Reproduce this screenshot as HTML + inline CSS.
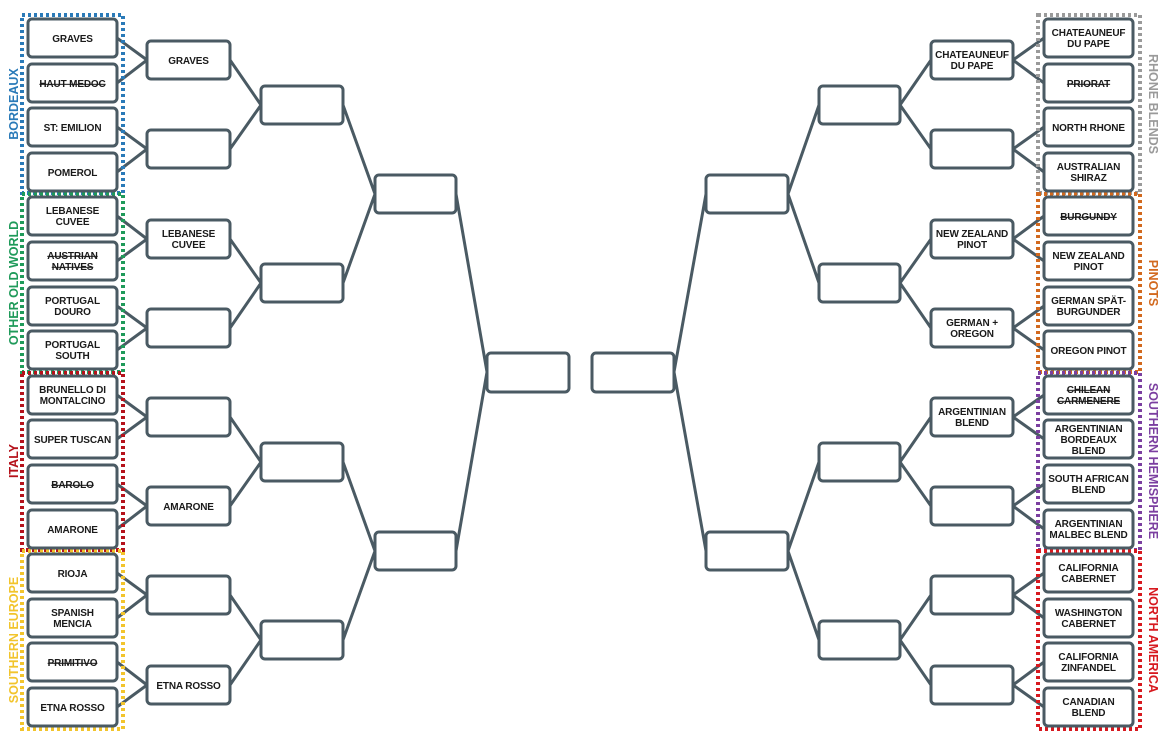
<!DOCTYPE html>
<html><head><meta charset="utf-8"><style>
html,body{margin:0;padding:0;background:#fff;}
svg{display:block;}
text{font-family:"Liberation Sans",sans-serif;font-weight:bold;font-size:10px;fill:#1a1a1a;text-anchor:middle;letter-spacing:-0.15px;}
.s{text-decoration:line-through;}
.g{font-size:12.5px;letter-spacing:0;}
</style></head><body>
<svg width="1170" height="746" viewBox="0 0 1170 746">
<g stroke="#4a5a63" stroke-width="3" fill="none" stroke-linecap="round">
<path d="M117 38L147 60M117 83L147 60M117 127L147 149M117 172L147 149M117 216L147 239M117 261L147 239M117 306L147 328M117 350L147 328M117 395L147 417M117 439L147 417M117 484L147 506M117 529L147 506M117 573L147 595M117 618L147 595M117 662L147 685M117 707L147 685"/>
<path d="M230 60L261 105M230 149L261 105M230 239L261 283M230 328L261 283M230 417L261 462M230 506L261 462M230 595L261 640M230 685L261 640"/>
<path d="M343 105L375 194M343 283L375 194M343 462L375 551M343 640L375 551"/>
<path d="M456 194L487 372M456 551L487 372"/>
<path d="M1044 38L1013 60M1044 83L1013 60M1044 127L1013 149M1044 172L1013 149M1044 216L1013 239M1044 261L1013 239M1044 306L1013 328M1044 350L1013 328M1044 395L1013 417M1044 439L1013 417M1044 484L1013 506M1044 529L1013 506M1044 573L1013 595M1044 618L1013 595M1044 662L1013 685M1044 707L1013 685"/>
<path d="M931 60L900 105M931 149L900 105M931 239L900 283M931 328L900 283M931 417L900 462M931 506L900 462M931 595L900 640M931 685L900 640"/>
<path d="M819 105L788 194M819 283L788 194M819 462L788 551M819 640L788 551"/>
<path d="M706 194L674 372M706 551L674 372"/>
</g>
<g fill="none" stroke-width="4" stroke-dasharray="3 3">
<rect x="22" y="15" width="101" height="178" stroke="#2a7ab8"/>
<rect x="22" y="194" width="101" height="178" stroke="#1f9a5a"/>
<rect x="22" y="373" width="101" height="177" stroke="#b5121b"/>
<rect x="22" y="551" width="101" height="178" stroke="#f2c42c"/>
<rect x="1038" y="15" width="102" height="178" stroke="#9a9a9a"/>
<rect x="1038" y="194" width="102" height="178" stroke="#d2691e"/>
<rect x="1038" y="373" width="102" height="177" stroke="#7b3fa0"/>
<rect x="1038" y="551" width="102" height="178" stroke="#d7191f"/>
</g>
<g>
<text class="g" transform="translate(18,104) rotate(-90)" style="fill:#2a7ab8">BORDEAUX</text>
<text class="g" transform="translate(18,283) rotate(-90)" style="fill:#1f9a5a">OTHER OLD WORLD</text>
<text class="g" transform="translate(18,461) rotate(-90)" style="fill:#b5121b">ITALY</text>
<text class="g" transform="translate(18,640) rotate(-90)" style="fill:#f2c42c">SOUTHERN EUROPE</text>
<text class="g" transform="translate(1149,104) rotate(90)" style="fill:#9a9a9a">RHONE BLENDS</text>
<text class="g" transform="translate(1149,283) rotate(90)" style="fill:#d2691e">PINOTS</text>
<text class="g" transform="translate(1149,461) rotate(90)" style="fill:#7b3fa0">SOUTHERN HEMISPHERE</text>
<text class="g" transform="translate(1149,640) rotate(90)" style="fill:#d7191f">NORTH AMERICA</text>
</g>
<g fill="#fff" stroke="#4a5a63" stroke-width="3">
<rect x="28" y="19" width="89" height="38" rx="4"/><rect x="28" y="64" width="89" height="38" rx="4"/><rect x="28" y="108" width="89" height="38" rx="4"/><rect x="28" y="153" width="89" height="38" rx="4"/>
<rect x="28" y="197" width="89" height="38" rx="4"/><rect x="28" y="242" width="89" height="38" rx="4"/><rect x="28" y="287" width="89" height="38" rx="4"/><rect x="28" y="331" width="89" height="38" rx="4"/>
<rect x="28" y="376" width="89" height="38" rx="4"/><rect x="28" y="420" width="89" height="38" rx="4"/><rect x="28" y="465" width="89" height="38" rx="4"/><rect x="28" y="510" width="89" height="38" rx="4"/>
<rect x="28" y="554" width="89" height="38" rx="4"/><rect x="28" y="599" width="89" height="38" rx="4"/><rect x="28" y="643" width="89" height="38" rx="4"/><rect x="28" y="688" width="89" height="38" rx="4"/>
<rect x="147" y="41" width="83" height="38" rx="4"/><rect x="147" y="130" width="83" height="38" rx="4"/><rect x="147" y="220" width="83" height="38" rx="4"/><rect x="147" y="309" width="83" height="38" rx="4"/>
<rect x="147" y="398" width="83" height="38" rx="4"/><rect x="147" y="487" width="83" height="38" rx="4"/><rect x="147" y="576" width="83" height="38" rx="4"/><rect x="147" y="666" width="83" height="38" rx="4"/>
<rect x="261" y="86" width="82" height="38" rx="4"/><rect x="261" y="264" width="82" height="38" rx="4"/><rect x="261" y="443" width="82" height="38" rx="4"/><rect x="261" y="621" width="82" height="38" rx="4"/>
<rect x="375" y="175" width="81" height="38" rx="4"/><rect x="375" y="532" width="81" height="38" rx="4"/>
<rect x="487" y="353" width="82" height="39" rx="4"/><rect x="592" y="353" width="82" height="39" rx="4"/>
<rect x="706" y="175" width="82" height="38" rx="4"/><rect x="706" y="532" width="82" height="38" rx="4"/>
<rect x="819" y="86" width="81" height="38" rx="4"/><rect x="819" y="264" width="81" height="38" rx="4"/><rect x="819" y="443" width="81" height="38" rx="4"/><rect x="819" y="621" width="81" height="38" rx="4"/>
<rect x="931" y="41" width="82" height="38" rx="4"/><rect x="931" y="130" width="82" height="38" rx="4"/><rect x="931" y="220" width="82" height="38" rx="4"/><rect x="931" y="309" width="82" height="38" rx="4"/>
<rect x="931" y="398" width="82" height="38" rx="4"/><rect x="931" y="487" width="82" height="38" rx="4"/><rect x="931" y="576" width="82" height="38" rx="4"/><rect x="931" y="666" width="82" height="38" rx="4"/>
<rect x="1044" y="19" width="89" height="38" rx="4"/><rect x="1044" y="64" width="89" height="38" rx="4"/><rect x="1044" y="108" width="89" height="38" rx="4"/><rect x="1044" y="153" width="89" height="38" rx="4"/>
<rect x="1044" y="197" width="89" height="38" rx="4"/><rect x="1044" y="242" width="89" height="38" rx="4"/><rect x="1044" y="287" width="89" height="38" rx="4"/><rect x="1044" y="331" width="89" height="38" rx="4"/>
<rect x="1044" y="376" width="89" height="38" rx="4"/><rect x="1044" y="420" width="89" height="38" rx="4"/><rect x="1044" y="465" width="89" height="38" rx="4"/><rect x="1044" y="510" width="89" height="38" rx="4"/>
<rect x="1044" y="554" width="89" height="38" rx="4"/><rect x="1044" y="599" width="89" height="38" rx="4"/><rect x="1044" y="643" width="89" height="38" rx="4"/><rect x="1044" y="688" width="89" height="38" rx="4"/>
</g>
<text x="72.5" y="42">GRAVES</text>
<text x="72.5" y="87" class="s">HAUT MEDOC</text>
<text x="72.5" y="131">ST: EMILION</text>
<text x="72.5" y="176">POMEROL</text>
<text x="72.5" y="214">LEBANESE</text><text x="72.5" y="225">CUVEE</text>
<text x="72.5" y="259" class="s">AUSTRIAN</text><text x="72.5" y="270" class="s">NATIVES</text>
<text x="72.5" y="304">PORTUGAL</text><text x="72.5" y="315">DOURO</text>
<text x="72.5" y="348">PORTUGAL</text><text x="72.5" y="359">SOUTH</text>
<text x="72.5" y="393">BRUNELLO DI</text><text x="72.5" y="404">MONTALCINO</text>
<text x="72.5" y="443">SUPER TUSCAN</text>
<text x="72.5" y="488" class="s">BAROLO</text>
<text x="72.5" y="533">AMARONE</text>
<text x="72.5" y="577">RIOJA</text>
<text x="72.5" y="616">SPANISH</text><text x="72.5" y="627">MENCIA</text>
<text x="72.5" y="666" class="s">PRIMITIVO</text>
<text x="72.5" y="711">ETNA ROSSO</text>
<text x="188.5" y="64">GRAVES</text>
<text x="188.5" y="237">LEBANESE</text><text x="188.5" y="248">CUVEE</text>
<text x="188.5" y="510">AMARONE</text>
<text x="188.5" y="689">ETNA ROSSO</text>
<text x="1088.5" y="36">CHATEAUNEUF</text><text x="1088.5" y="47">DU PAPE</text>
<text x="1088.5" y="87" class="s">PRIORAT</text>
<text x="1088.5" y="131">NORTH RHONE</text>
<text x="1088.5" y="170">AUSTRALIAN</text><text x="1088.5" y="181">SHIRAZ</text>
<text x="1088.5" y="220" class="s">BURGUNDY</text>
<text x="1088.5" y="259">NEW ZEALAND</text><text x="1088.5" y="270">PINOT</text>
<text x="1088.5" y="304">GERMAN SPÄT-</text><text x="1088.5" y="315">BURGUNDER</text>
<text x="1088.5" y="354">OREGON PINOT</text>
<text x="1088.5" y="393" class="s">CHILEAN</text><text x="1088.5" y="404" class="s">CARMENERE</text>
<text x="1088.5" y="432">ARGENTINIAN</text><text x="1088.5" y="443">BORDEAUX</text><text x="1088.5" y="454">BLEND</text>
<text x="1088.5" y="482">SOUTH AFRICAN</text><text x="1088.5" y="493">BLEND</text>
<text x="1088.5" y="527">ARGENTINIAN</text><text x="1088.5" y="538">MALBEC BLEND</text>
<text x="1088.5" y="571">CALIFORNIA</text><text x="1088.5" y="582">CABERNET</text>
<text x="1088.5" y="616">WASHINGTON</text><text x="1088.5" y="627">CABERNET</text>
<text x="1088.5" y="660">CALIFORNIA</text><text x="1088.5" y="671">ZINFANDEL</text>
<text x="1088.5" y="705">CANADIAN</text><text x="1088.5" y="716">BLEND</text>
<text x="972" y="58">CHATEAUNEUF</text><text x="972" y="69">DU PAPE</text>
<text x="972" y="237">NEW ZEALAND</text><text x="972" y="248">PINOT</text>
<text x="972" y="326">GERMAN +</text><text x="972" y="337">OREGON</text>
<text x="972" y="415">ARGENTINIAN</text><text x="972" y="426">BLEND</text>
</svg>
</body></html>
